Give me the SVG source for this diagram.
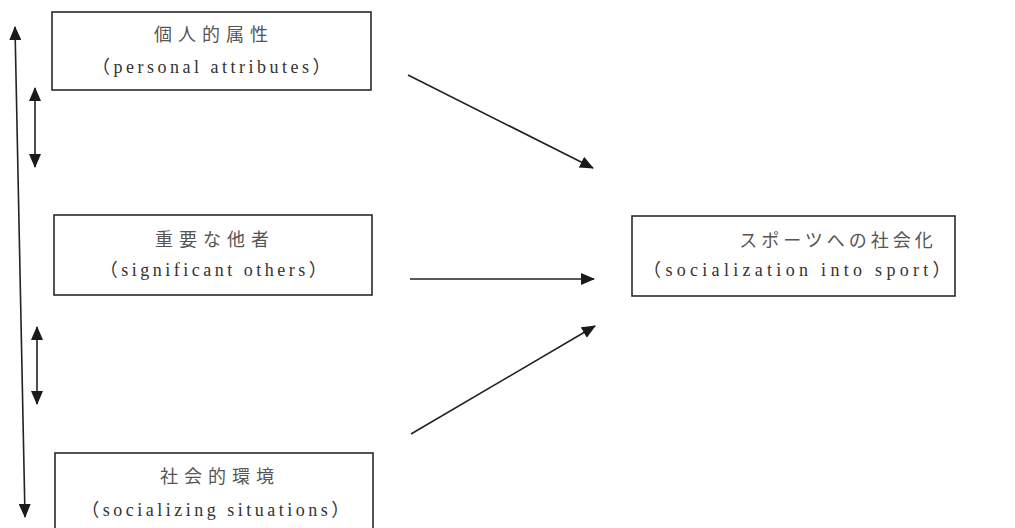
<svg xmlns="http://www.w3.org/2000/svg" width="1015" height="528" viewBox="0 0 1015 528">
<style>
.box{fill:#fff;stroke:#2a2a2a;stroke-width:1.6}
.jp{font-family:"Liberation Serif","Noto Sans CJK JP",serif;font-size:18px;fill:#555;letter-spacing:6px;text-anchor:middle;dominant-baseline:central}
.en{font-family:"Liberation Serif","Noto Sans CJK JP",serif;font-size:18px;fill:#333;letter-spacing:3.5px;text-anchor:middle;dominant-baseline:central}
.ln{stroke:#222;stroke-width:1.6;fill:none}
</style>
<defs>
<marker id="ah" markerUnits="userSpaceOnUse" markerWidth="14" markerHeight="12" refX="13" refY="6" orient="auto-start-reverse" viewBox="0 0 14 12">
<path d="M0,0 L14,6 L0,12 Z" fill="#1a1a1a"/>
</marker>
</defs>
<rect width="1015" height="528" fill="#fff"/>
<g id="connectors">
<line class="ln" x1="15" y1="27" x2="25" y2="517" marker-start="url(#ah)" marker-end="url(#ah)"/>
<line class="ln" x1="35" y1="88" x2="35" y2="167" marker-start="url(#ah)" marker-end="url(#ah)"/>
<line class="ln" x1="37" y1="327" x2="37" y2="404" marker-start="url(#ah)" marker-end="url(#ah)"/>
<line class="ln" x1="408" y1="75" x2="593" y2="168" marker-end="url(#ah)"/>
<line class="ln" x1="410" y1="279" x2="594" y2="279" marker-end="url(#ah)"/>
<line class="ln" x1="411" y1="434" x2="595" y2="326" marker-end="url(#ah)"/>
</g>
<g id="personal">
<rect class="box" x="52" y="12" width="319" height="78"/>
<text class="jp" x="214" y="35">個人的属性</text>
<text class="en" x="213" y="67">（personal attributes）</text>
</g>
<g id="others">
<rect class="box" x="54" y="215" width="318" height="80"/>
<text class="jp" x="215" y="240">重要な他者</text>
<text class="en" x="215" y="270">（significant others）</text>
</g>
<g id="situations">
<rect class="box" x="55" y="453" width="318" height="90"/>
<text class="jp" x="220" y="477">社会的環境</text>
<text class="en" x="217" y="510">（socializing situations）</text>
</g>
<g id="sport">
<rect class="box" x="632" y="216" width="323" height="80"/>
<text class="jp" x="838" y="241" style="letter-spacing:4px">スポーツへの社会化</text>
<text class="en" x="799" y="270" style="letter-spacing:4.3px">（socialization into sport）</text>
</g>
</svg>
